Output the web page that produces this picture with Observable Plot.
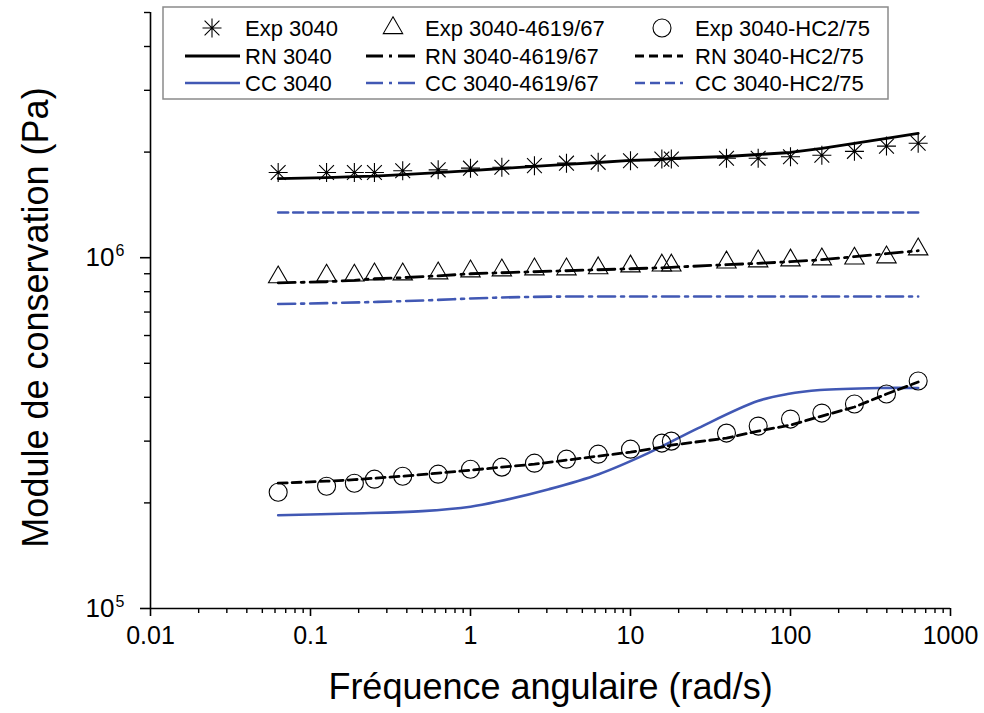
<!DOCTYPE html>
<html><head><meta charset="utf-8">
<script src="https://cdn.jsdelivr.net/npm/d3@7"></script>
<script src="https://cdn.jsdelivr.net/npm/@observablehq/plot@0.6"></script>
<style>body{margin:0;background:#fff} svg{display:block}</style>
</head><body><div id="chart"></div>
<script>
// ---- data (angular frequency in rad/s, storage modulus in units of 10^6 Pa) ----
const freq = [0.0628,0.126,0.188,0.251,0.377,0.628,1,1.57,2.51,3.98,6.28,10,15.7,18.0,39.8,62.8,100,157,251,398,628];
const exp3040 = [1.75,1.75,1.75,1.75,1.77,1.78,1.80,1.81,1.83,1.86,1.87,1.89,1.91,1.91,1.92,1.92,1.94,1.96,2.01,2.08,2.12];
const rn3040 = [1.681,1.692,1.703,1.709,1.726,1.749,1.772,1.796,1.820,1.844,1.868,1.893,1.905,1.918,1.943,1.969,1.995,2.048,2.117,2.188,2.262];
const exp4619 = [0.88,0.89,0.89,0.897,0.897,0.903,0.915,0.921,0.927,0.927,0.934,0.945,0.951,0.951,0.97,0.977,0.983,0.99,0.995,1.003,1.057];
const rn4619 = [0.848,0.854,0.862,0.871,0.877,0.888,0.900,0.906,0.912,0.918,0.924,0.930,0.936,0.939,0.955,0.964,0.974,0.987,1.007,1.027,1.047];
const expHC = [0.2145,0.2232,0.2276,0.2337,0.2383,0.2415,0.2495,0.2529,0.2596,0.2665,0.2754,0.2846,0.2961,0.300,0.3162,0.3311,0.3467,0.3606,0.3827,0.4087,0.4452];
const rnHC = [0.2276,0.2306,0.2329,0.2352,0.2383,0.2431,0.2479,0.2529,0.2579,0.2648,0.2719,0.2791,0.2884,0.2922,0.3060,0.3205,0.3333,0.3537,0.3753,0.4087,0.4421];
const cc3040Freq = [0.0628,0.177,0.5,1.0,1.51,3.09,6.33,12.9,26.5,62.4,95.8,153,362,628];
const cc3040 = [0.1844,0.1866,0.1895,0.1950,0.2021,0.2188,0.2415,0.2773,0.3268,0.3903,0.4087,0.4196,0.4253,0.4253];
const cc4619Freq = [0.0628,0.126,0.251,0.628,1,2,5,628];
const cc4619 = [0.738,0.742,0.748,0.758,0.765,0.772,0.775,0.775];
const ccHCFreq = [0.0628,628];
const ccHC = [1.345,1.345];
const unit = 1e6;

const xMajor = [0.01,0.1,1,10,100,1000];
const xMajorLabels = ["0.01","0.1","1","10","100","1000"];
const yMajor = [1e5,1e6];
const yMajorBase = ["10","10"];
const yMajorExp = ["5","6"];
const xTitle = "Fréquence angulaire (rad/s)";
const yTitle = "Module de conservation (Pa)";
const legendRows = [
  ["Exp 3040","Exp 3040-4619/67","Exp 3040-HC2/75"],
  ["RN 3040","RN 3040-4619/67","RN 3040-HC2/75"],
  ["CC 3040","CC 3040-4619/67","CC 3040-HC2/75"]
];

// ---- styles ----
const BLUE = "#4158b4";
const FONT = "'Liberation Sans', Arial, Helvetica, sans-serif";
const DASHDOT = "17,6,3,6";
const DASH_BLACK = "9,5";
const DASH_BLUE = "10,5";

const asterisk8 = {
  draw(ctx, size) {
    const r = Math.sqrt(size / Math.PI);
    const d = r * 0.78;
    ctx.moveTo(-r, 0); ctx.lineTo(r, 0);
    ctx.moveTo(0, -r); ctx.lineTo(0, r);
    ctx.moveTo(-d, -d); ctx.lineTo(d, d);
    ctx.moveTo(-d, d); ctx.lineTo(d, -d);
  }
};

const table = (xs, ys) => xs.map((x, i) => ({x, y: ys[i] * unit}));
const minorOf = (lo, hi) => {
  const out = [];
  for (let e = lo; e < hi; e++) for (let k = 2; k <= 9; k++) out.push(k * Math.pow(10, e));
  return out;
};
const xMinor = minorOf(-2, 3);
const yMinor = [...minorOf(5, 6), 2e6, 3e6, 4e6, 5e6];
const xLabel = new Map(xMajor.map((v, i) => [v, xMajorLabels[i]]));
const yBase = new Map(yMajor.map((v, i) => [v, yMajorBase[i]]));
const yExp = new Map(yMajor.map((v, i) => [v, yMajorExp[i]]));

const plot = Plot.plot({
  width: 984, height: 713,
  marginLeft: 150, marginRight: 34, marginTop: 12, marginBottom: 105,
  style: {fontFamily: FONT, fontSize: "25px", color: "#000", background: "#fff", overflow: "visible"},
  x: {type: "log", domain: [0.01, 1000]},
  y: {type: "log", domain: [1e5, 5e6]},
  marks: [
    Plot.axisX({ticks: xMinor, tickSize: 5, tickFormat: () => "", strokeWidth: 1.4, label: null}),
    Plot.axisX({ticks: xMajor, tickSize: 8, tickPadding: 10, tickFormat: d => xLabel.get(d), strokeWidth: 1.6, label: null}),
    Plot.axisY({ticks: yMinor, tickSize: 6, tickFormat: () => "", strokeWidth: 1.4, label: null}),
    Plot.axisY({ticks: yMajor, tickSize: 10, tickFormat: () => "", strokeWidth: 1.6, label: null}),
    Plot.text(yMajor, {x: 0.01, y: d => d, text: d => yBase.get(d), textAnchor: "end", dx: -36, fontSize: 26}),
    Plot.text(yMajor, {x: 0.01, y: d => d, text: d => yExp.get(d), textAnchor: "start", dx: -35, dy: -7, fontSize: 16}),
    Plot.ruleX([0.01], {y1: 1e5, y2: 5e6, stroke: "#000", strokeWidth: 1.6}),
    Plot.ruleY([1e5], {x1: 0.01, x2: 1000, stroke: "#000", strokeWidth: 1.6}),
    Plot.text([xTitle], {frameAnchor: "bottom", lineAnchor: "middle", textAnchor: "middle", dy: 79, fontSize: 36}),
    Plot.text([yTitle], {frameAnchor: "left", textAnchor: "middle", lineAnchor: "middle", rotate: -90, dx: -114, dy: 7, fontSize: 36}),

    Plot.line(table(ccHCFreq, ccHC), {x: "x", y: "y", stroke: BLUE, strokeWidth: 2.6, strokeDasharray: DASH_BLUE}),
    Plot.line(table(cc4619Freq, cc4619), {x: "x", y: "y", stroke: BLUE, strokeWidth: 2.6, strokeDasharray: DASHDOT, curve: "monotone-x"}),
    Plot.line(table(cc3040Freq, cc3040), {x: "x", y: "y", stroke: BLUE, strokeWidth: 2.6, curve: "catmull-rom"}),
    Plot.line(table(freq, rn3040), {x: "x", y: "y", stroke: "#000", strokeWidth: 2.8}),
    Plot.line(table(freq, rn4619), {x: "x", y: "y", stroke: "#000", strokeWidth: 2.8, strokeDasharray: DASHDOT}),
    Plot.line(table(freq, rnHC), {x: "x", y: "y", stroke: "#000", strokeWidth: 2.8, strokeDasharray: DASH_BLACK}),

    Plot.dot(table(freq, exp3040), {x: "x", y: "y", symbol: asterisk8, r: 9.5, stroke: "#000", strokeWidth: 1.1, fill: "none"}),
    Plot.dot(table(freq, exp4619), {x: "x", y: "y", symbol: "triangle", r: 7.2, stroke: "#000", strokeWidth: 1.1, fill: "none"}),
    Plot.dot(table(freq, expHC), {x: "x", y: "y", symbol: "circle", r: 9, stroke: "#000", strokeWidth: 1.1, fill: "none"})
  ]
});

document.getElementById("chart").append(plot);

// ---- legend (inside the plot, top) ----
const svg = d3.select(plot);
const lg = svg.append("g").attr("font-family", FONT).attr("font-size", 22).attr("text-anchor", "start");
lg.append("rect").attr("x", 163).attr("y", 7).attr("width", 725).attr("height", 92)
  .attr("fill", "#fff").attr("stroke", "#8a8a8a").attr("stroke-width", 1.5);
const rowsY = [28, 56, 83];
const cols = [
  {sym: 212, l0: 185, l1: 240, tx: 245, dash: null, bdash: null},
  {sym: 393, l0: 366, l1: 419, tx: 425, dash: DASHDOT, bdash: DASHDOT},
  {sym: 662, l0: 635, l1: 683, tx: 695, dash: DASH_BLACK, bdash: DASH_BLUE}
];
const symTypes = [asterisk8, d3.symbolTriangle, d3.symbolCircle];
const symR = [9.5, 7.2, 9];
cols.forEach((c, j) => {
  lg.append("path").attr("transform", `translate(${c.sym},${rowsY[0]})`)
    .attr("d", d3.symbol(symTypes[j], symR[j] * symR[j] * Math.PI)())
    .attr("fill", "none").attr("stroke", "#000").attr("stroke-width", 1.1);
  lg.append("line").attr("x1", c.l0).attr("x2", c.l1).attr("y1", rowsY[1]).attr("y2", rowsY[1])
    .attr("stroke", "#000").attr("stroke-width", 2.8).attr("stroke-dasharray", c.dash);
  lg.append("line").attr("x1", c.l0).attr("x2", c.l1).attr("y1", rowsY[2]).attr("y2", rowsY[2])
    .attr("stroke", BLUE).attr("stroke-width", 2.6).attr("stroke-dasharray", c.bdash);
  legendRows.forEach((row, i) => {
    lg.append("text").attr("x", c.tx).attr("y", rowsY[i]).attr("dy", "0.36em").attr("text-anchor", "start").text(row[j]);
  });
});
</script>
</body></html>
